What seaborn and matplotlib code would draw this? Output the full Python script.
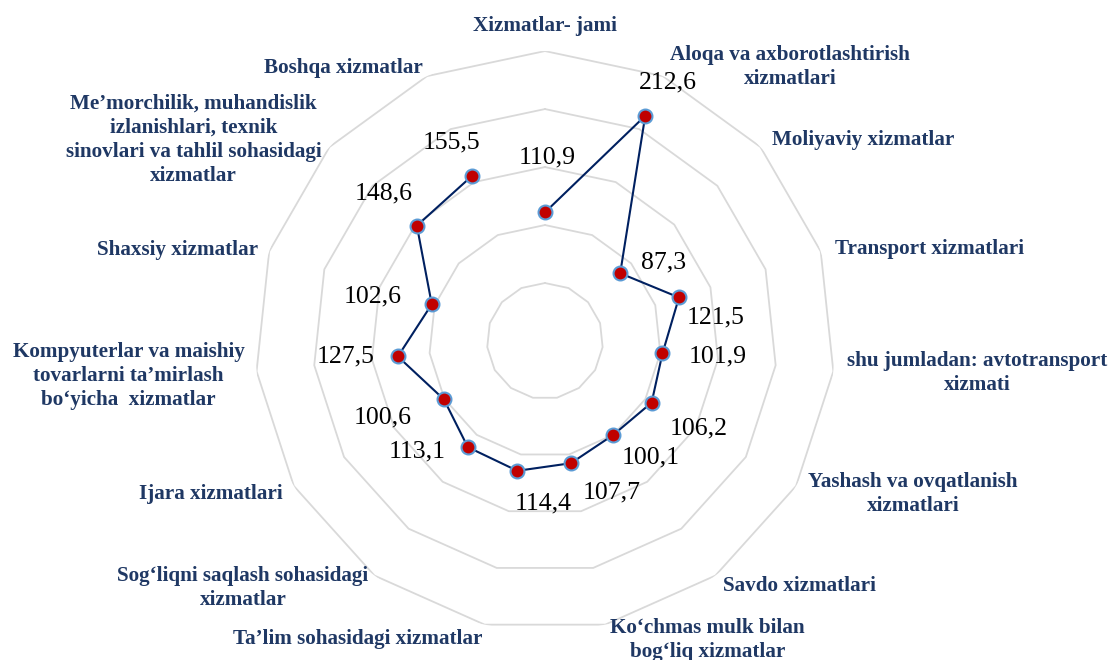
import numpy as np
import matplotlib
matplotlib.use("Agg")
import matplotlib.pyplot as plt
import matplotlib.transforms as mtransforms
import seaborn as sns

# ── DATA ────────────────────────────────────────────────────────────────────
categories = [
    "Xizmatlar- jami",
    "Aloqa va axborotlashtirish\nxizmatlari",
    "Moliyaviy xizmatlar",
    "Transport xizmatlari",
    "shu jumladan: avtotransport\nxizmati",
    "Yashash va ovqatlanish\nxizmatlari",
    "Savdo xizmatlari",
    "Ko‘chmas mulk bilan\nbog‘liq xizmatlar",
    "Ta’lim sohasidagi xizmatlar",
    "Sog‘liqni saqlash sohasidagi\nxizmatlar",
    "Ijara xizmatlari",
    "Kompyuterlar va maishiy\ntovarlarni ta’mirlash\nbo‘yicha  xizmatlar",
    "Shaxsiy xizmatlar",
    "Me’morchilik, muhandislik\nizlanishlari, texnik\nsinovlari va tahlil sohasidagi\nxizmatlar",
    "Boshqa xizmatlar",
]
values = [110.9, 212.6, 87.3, 121.5, 101.9, 106.2, 100.1, 107.7,
          114.4, 113.1, 100.6, 127.5, 102.6, 148.6, 155.5]
ring_levels = [50, 100, 150, 200, 250]
r_max = 250

# ── LABEL PLACEMENT (pixel offsets) ─────────────────────────────────────────
cat_offsets = [(0, 25), (7, 9), (12, 7), (14, 2), (14, -2), (12, -8), (8, -10),
               (5, -15), (-2, -14), (-6, -12), (-11, -8), (-12, -5), (-11, 1),
               (-8, 7), (-4, 8)]
val_offsets = [(2, 55), (23, 33), (43, 11), (37, -20), (55, -3), (47, -26),
               (37, -23), (41, -29), (26, -33), (-51, -4), (-61, -18),
               (-52, 0), (-59, 8), (-33, 32), (-20, 34)]
LINE_PITCH = 24  # px between label lines

NAVY = "#1F3864"; LINE = "#002060"; RED = "#C00000"; EDGE = "#5B9BD5"; GRID = "#D9D9D9"

sns.set_style("white")
plt.rcParams["font.family"] = ["Liberation Serif", "DejaVu Serif"]

n = len(categories)
theta = np.arange(n) * 2 * np.pi / n
theta_closed = np.append(theta, theta[0])

fig = plt.figure(figsize=(11.11, 6.6), dpi=100)
ax = fig.add_axes([0.2295, 0.0439, 0.522, 0.8788], projection="polar")
ax.set_theta_offset(np.pi / 2)
ax.set_theta_direction(-1)
ax.set_ylim(0, r_max)
ax.grid(False)
ax.spines["polar"].set_visible(False)
ax.set_xticks([]); ax.set_yticks([])
ax.patch.set_alpha(0)

# polygon grid rings
for lvl in ring_levels:
    ax.plot(theta_closed, [lvl] * (n + 1), color=GRID, lw=1.3, zorder=1)

# data line + markers
sns.lineplot(x=theta_closed, y=values + [values[0]], sort=False, ax=ax,
             color=LINE, lw=1.5, zorder=3)
sns.scatterplot(x=theta, y=values, ax=ax, color=RED, edgecolor=EDGE,
                linewidth=1.5, s=100, zorder=4)
ax.set_xlabel(""); ax.set_ylabel("")

# value labels
for t, v, (dx, dy) in zip(theta, values, val_offsets):
    ax.annotate(f"{v:.1f}".replace(".", ","), xy=(t, v), xytext=(dx, dy),
                textcoords="offset pixels", ha="center", va="center",
                fontsize=18.5, color="black", zorder=5)

# category labels: measure the centred block, then draw each line on its own
renderer = fig.canvas.get_renderer()
cat_style = dict(fontsize=15.2, fontweight="bold", color=NAVY)
for i, (t, lab, (dx, dy)) in enumerate(zip(theta, categories, cat_offsets)):
    ha = "center" if i == 0 else ("left" if i <= 7 else "right")
    tmp = ax.annotate(lab, xy=(t, r_max), xytext=(dx, dy), textcoords="offset pixels",
                      ha=ha, va="center", multialignment="center",
                      annotation_clip=False, **cat_style)
    bb = tmp.get_window_extent(renderer)
    tmp.remove()
    lines = lab.split("\n")
    cx = (bb.x0 + bb.x1) / 2
    cy = (bb.y0 + bb.y1) / 2
    for j, line in enumerate(lines):
        y = cy + ((len(lines) - 1) / 2 - j) * LINE_PITCH
        fig.text(cx, y, line, ha="center", va="center",
                 transform=mtransforms.IdentityTransform(), **cat_style)

fig.savefig("out.png", dpi=100)
